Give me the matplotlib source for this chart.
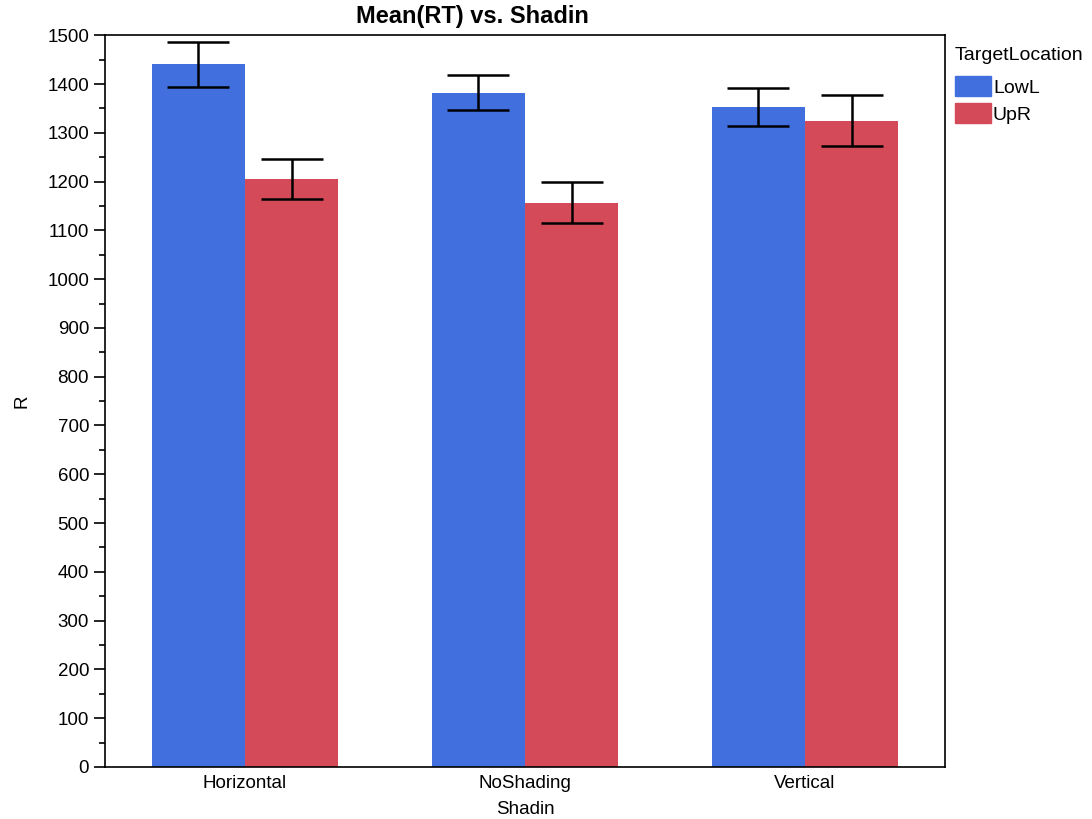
import numpy as np
import matplotlib.pyplot as plt
from matplotlib.ticker import MultipleLocator
from matplotlib.patches import Patch

plt.rcParams['font.family'] = ['Liberation Sans', 'DejaVu Sans']

categories = ['Horizontal', 'NoShading', 'Vertical']
lowl_mean = [1440, 1382, 1352]
lowl_err = [46, 36, 39]
upr_mean = [1206, 1157, 1325]
upr_err = [41, 42, 52]

blue = '#4170DE'
red = '#D44A59'

fig = plt.figure(figsize=(10.92, 8.19), dpi=100)
ax = fig.add_axes([0.0962, 0.0635, 0.7692, 0.8935])

x = np.arange(len(categories))
w = 0.333
err_kw = dict(ecolor='black', elinewidth=1.8, capsize=22, capthick=1.8)
ax.bar(x - w / 2, lowl_mean, w, color=blue, yerr=lowl_err, error_kw=err_kw)
ax.bar(x + w / 2, upr_mean, w, color=red, yerr=upr_err, error_kw=err_kw)

ax.set_xlim(-0.5, 2.5)
ax.set_ylim(0, 1500)
ax.set_xticks(x)
ax.set_xticklabels(categories)
ax.yaxis.set_major_locator(MultipleLocator(100))
ax.yaxis.set_minor_locator(MultipleLocator(50))
ax.tick_params(axis='both', which='major', labelsize=13.5, length=8, width=1.2, direction='out')
ax.tick_params(axis='y', which='minor', length=4, width=1.2)
ax.tick_params(axis='x', length=0, pad=6)
for s in ax.spines.values():
    s.set_linewidth(1.2)

ax.set_xlabel('Shadin', fontsize=13.5, labelpad=6)
ax.set_ylabel('R', fontsize=13.5, labelpad=12)
fig.text(472 / 1092, 1 - 17 / 819, 'Mean(RT) vs. Shadin', fontsize=17,
         fontweight='bold', ha='center', va='center')

# legend title drawn separately so the gap above the patches can be set
fig.text(955 / 1092, 1 - 55 / 819, 'TargetLocation', fontsize=14,
         ha='left', va='center')
handles = [Patch(color=blue, label='LowL'), Patch(color=red, label='UpR')]
fig.legend(handles=handles, loc='upper left',
           bbox_to_anchor=(955 / 1092, 1 - 76 / 819), frameon=False,
           fontsize=14, handlelength=1.85, handleheight=1.2,
           handletextpad=0.1, labelspacing=0.35, borderpad=0,
           borderaxespad=0)

fig.savefig('out.png', dpi=100)
